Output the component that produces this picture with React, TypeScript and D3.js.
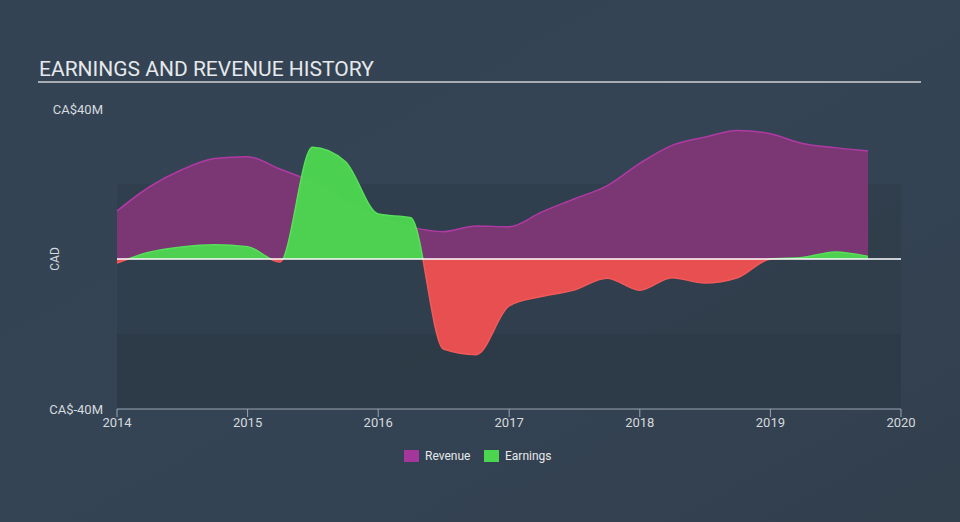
import React from "react";
import * as d3 from "d3";

const dates = [
  "2014-01-01", "2014-04-01", "2014-07-01", "2014-10-01",
  "2015-01-01", "2015-04-01", "2015-07-01", "2015-10-01",
  "2016-01-01", "2016-04-01", "2016-07-01", "2016-10-01",
  "2017-01-01", "2017-04-01", "2017-07-01", "2017-10-01",
  "2018-01-01", "2018-04-01", "2018-07-01", "2018-10-01",
  "2019-01-01", "2019-04-01", "2019-07-01", "2019-10-01",
];
const revenue = [
  12.8, 19.2, 23.8, 26.8,
  27.3, 24.0, 20.5, 15.0,
  11.0, 8.5, 7.3, 8.8,
  8.6, 12.5, 16.0, 19.5,
  25.5, 30.3, 32.5, 34.3,
  33.4, 30.8, 29.7, 28.8,
];
const earnings = [
  -1.1, 1.8, 3.2, 3.8,
  3.3, -0.8, 29.8, 26.0,
  12.0, 11.0, -24.0, -25.5,
  -12.5, -10.0, -8.3, -5.1,
  -8.3, -5.0, -6.4, -5.0,
  0.0, 0.4, 1.9, 0.7,
];
const xTicks = ["2014", "2015", "2016", "2017", "2018", "2019", "2020"];
const yLabels = [40, -40];

const W = 960;
const H = 522;
const left = 117;
const right = 901;
const top = 109;
const bottom = 409;

export default function App() {
  const parse = d3.timeParse("%Y-%m-%d");
  const data = dates.map((d, i) => ({ date: parse(d) as Date, rev: revenue[i], earn: earnings[i] }));
  const x = d3.scaleTime().domain([new Date(2014, 0, 1), new Date(2020, 0, 1)]).range([left, right]);
  const y = d3.scaleLinear().domain([-40, 40]).range([bottom, top]);
  const y0 = y(0);

  const revArea = d3.area<any>().x((d) => x(d.date)).y0(y0).y1((d) => y(d.rev)).curve(d3.curveMonotoneX);
  const revLine = d3.line<any>().x((d) => x(d.date)).y((d) => y(d.rev)).curve(d3.curveMonotoneX);
  const earnArea = d3.area<any>().x((d) => x(d.date)).y0(y0).y1((d) => y(d.earn)).curve(d3.curveMonotoneX);
  const earnLine = d3.line<any>().x((d) => x(d.date)).y((d) => y(d.earn)).curve(d3.curveMonotoneX);

  const font = "Roboto, 'Open Sans', sans-serif";

  return (
    <svg width={W} height={H} style={{ position: "absolute", left: 0, top: 0, display: "block" }}>
      <defs>
        <linearGradient id="bg" x1="0" y1="0" x2="1" y2="1">
          <stop offset="0" stopColor="#344354" />
          <stop offset="0.5" stopColor="#344455" />
          <stop offset="1" stopColor="#323f4d" />
        </linearGradient>
        <clipPath id="above">
          <rect x={0} y={0} width={W} height={y0} />
        </clipPath>
        <clipPath id="below">
          <rect x={0} y={y0} width={W} height={H - y0} />
        </clipPath>
      </defs>
      <rect x={0} y={0} width={W} height={H} fill="url(#bg)" />
      <rect x={left} y={y(20)} width={right - left} height={bottom - y(20)} fill="#2f3c4a" opacity={0.6} />
      <rect x={left} y={y(-20)} width={right - left} height={bottom - y(-20)} fill="#2c3845" opacity={0.6} />

      <text x={39} y={76} fill="#e6e8ea" fontFamily={font} fontSize={21}>
        EARNINGS AND REVENUE HISTORY
      </text>
      <line x1={38} x2={921} y1={82} y2={82} stroke="#a7adb3" strokeWidth={2} />

      <path d={revArea(data) || ""} fill="#7b3774" />
      <path d={revLine(data) || ""} fill="none" stroke="#b03aa3" strokeWidth={1.5} />

      <g clipPath="url(#above)">
        <path d={earnArea(data) || ""} fill="#4cd64f" opacity={0.97} />
        <path d={earnLine(data) || ""} fill="none" stroke="#58e05a" strokeWidth={1.5} />
      </g>
      <g clipPath="url(#below)">
        <path d={earnArea(data) || ""} fill="#e84f51" />
        <path d={earnLine(data) || ""} fill="none" stroke="#f25a5a" strokeWidth={1.5} />
      </g>

      <line x1={left} x2={right} y1={y0} y2={y0} stroke="#ffffff" strokeWidth={1.5} />

      <line x1={left} x2={right} y1={bottom} y2={bottom} stroke="#9aa4b0" strokeWidth={1} />
      {xTicks.map((t) => {
        const xx = x(new Date(+t, 0, 1));
        return (
          <g key={t}>
            <line x1={xx} x2={xx} y1={bottom} y2={bottom + 8} stroke="#9aa4b0" strokeWidth={1} />
            <text x={xx} y={427} textAnchor="middle" fill="#d6dade" fontFamily={font} fontSize={13}>
              {t}
            </text>
          </g>
        );
      })}

      {yLabels.map((v) => (
        <text key={v} x={103} y={y(v) + 5} textAnchor="end" fill="#d6dade" fontFamily={font} fontSize={13}>
          {`CA$${v}M`}
        </text>
      ))}
      <text
        transform={`translate(59,${y0}) rotate(-90)`}
        textAnchor="middle"
        fill="#d6dade"
        fontFamily={font}
        fontSize={12}
      >
        CAD
      </text>

      <rect x={404} y={450} width={15} height={12} fill="#a5379c" />
      <text x={425} y={460} fill="#e6e8ea" fontFamily={font} fontSize={12}>
        Revenue
      </text>
      <rect x={484} y={450} width={15} height={12} fill="#4cd64f" />
      <text x={505} y={460} fill="#e6e8ea" fontFamily={font} fontSize={12}>
        Earnings
      </text>
    </svg>
  );
}
